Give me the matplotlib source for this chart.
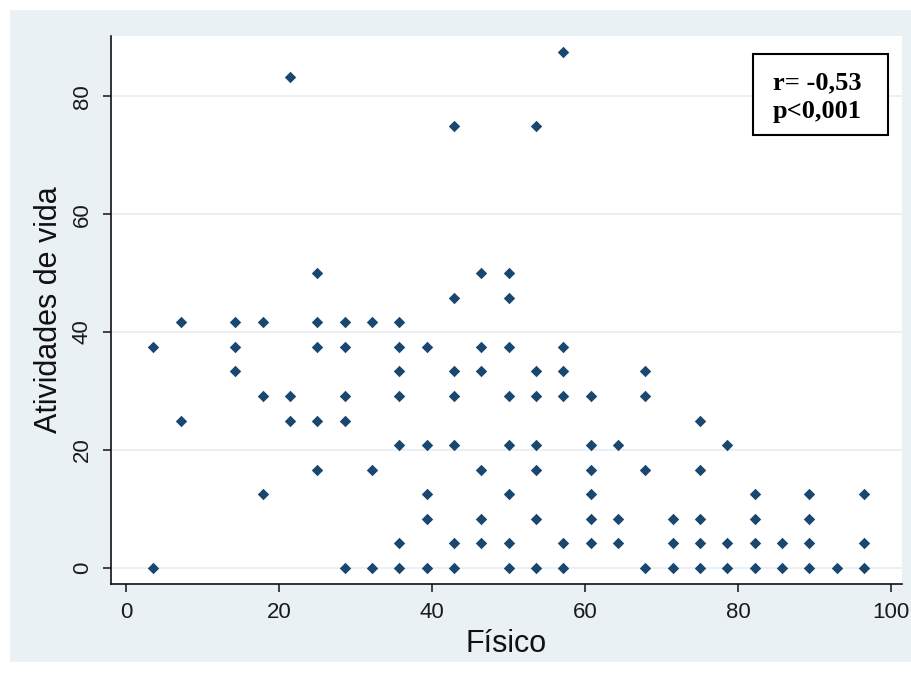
import matplotlib.pyplot as plt
from matplotlib.patches import Rectangle

# x positions (Fisico) and the y values found at each x (Atividades de vida)
fisico_cols = [3.57, 7.14, 14.29, 17.86, 21.43, 25.0, 28.57, 32.14, 35.71, 39.29,
               42.86, 46.43, 50.0, 53.57, 57.14, 60.71, 64.29, 67.86, 71.43, 75.0,
               78.57, 82.14, 85.71, 89.29, 92.86, 96.43]
atividades_cols = [
    [37.5, 0],
    [41.67, 25],
    [41.67, 37.5, 33.33],
    [41.67, 29.17, 12.5],
    [83.33, 29.17, 25],
    [50, 41.67, 37.5, 25, 16.67],
    [41.67, 37.5, 29.17, 25, 0],
    [41.67, 16.67, 0],
    [41.67, 37.5, 33.33, 29.17, 20.83, 4.17, 0],
    [37.5, 20.83, 12.5, 8.33, 0],
    [75, 45.83, 33.33, 29.17, 20.83, 4.17, 0],
    [50, 37.5, 33.33, 16.67, 8.33, 4.17],
    [50, 45.83, 37.5, 29.17, 20.83, 12.5, 4.17, 0],
    [75, 33.33, 29.17, 20.83, 16.67, 8.33, 0],
    [87.5, 37.5, 33.33, 29.17, 4.17, 0],
    [29.17, 20.83, 16.67, 12.5, 8.33, 4.17],
    [20.83, 8.33, 4.17],
    [33.33, 29.17, 16.67, 0],
    [8.33, 4.17, 0],
    [25, 16.67, 8.33, 4.17, 0],
    [20.83, 4.17, 0],
    [12.5, 8.33, 4.17, 0],
    [4.17, 0],
    [12.5, 8.33, 4.17, 0],
    [0],
    [12.5, 4.17, 0],
]
x_ticks = [0, 20, 40, 60, 80, 100]
y_ticks = [0, 20, 40, 60, 80]

fisico = []
atividades = []
for xv, ys in zip(fisico_cols, atividades_cols):
    for yv in ys:
        fisico.append(xv)
        atividades.append(yv)

plt.rcParams['font.family'] = ['Liberation Sans', 'DejaVu Sans']

W, H = 912, 673
fig = plt.figure(figsize=(W / 100, H / 100), dpi=100)
fig.patch.set_facecolor('white')
fig.patches.append(Rectangle((10 / W, 11 / H), 902 / W, 652 / H,
                             transform=fig.transFigure, facecolor='#eaf1f4',
                             edgecolor='none', zorder=-5))

ax = fig.add_axes([111 / W, (H - 584) / H, (902 - 111) / W, (584 - 36) / H])
ax.set_zorder(1)
ax.set_facecolor('white')
ax.scatter(fisico, atividades, marker='D', s=34, color='#1a476f', linewidths=0, zorder=3)

ax.set_xlim(-1.96, 101.4)
ax.set_ylim(-2.71, 90.2)
ax.set_xticks(x_ticks)
ax.set_yticks(y_ticks)
ax.grid(axis='y', color='#e6eef1', linewidth=1.2, zorder=0)
ax.grid(axis='x', visible=False)

for s in ['top', 'right']:
    ax.spines[s].set_visible(False)
for s in ['left', 'bottom']:
    ax.spines[s].set_linewidth(1.2)
    ax.spines[s].set_color('#111111')

ax.tick_params(axis='both', length=6, width=1.1, color='#111111',
               labelsize=16, labelcolor='#1a1a1a', pad=7)
for lab in ax.get_yticklabels():
    lab.set_rotation(90)
    lab.set_verticalalignment('center')

ax.set_xlabel('Físico', fontsize=22, color='#111111', labelpad=4)
ax.set_ylabel('Atividades de vida', fontsize=22, color='#111111', labelpad=6)

# correlation box
ax.add_patch(Rectangle((753 / W, (H - 135) / H), 135 / W, 81 / H,
                       transform=fig.transFigure, facecolor='white',
                       edgecolor='black', linewidth=1.5, zorder=4, clip_on=False))
ax.text(773 / W, (H - 97) / H, 'r= -0,53\np<0,001', transform=fig.transFigure,
        family=['Liberation Serif', 'DejaVu Serif'], fontweight='bold',
        fontsize=19, linespacing=1.3, ha='left', va='center', zorder=5)

fig.savefig('out.png', dpi=100)
